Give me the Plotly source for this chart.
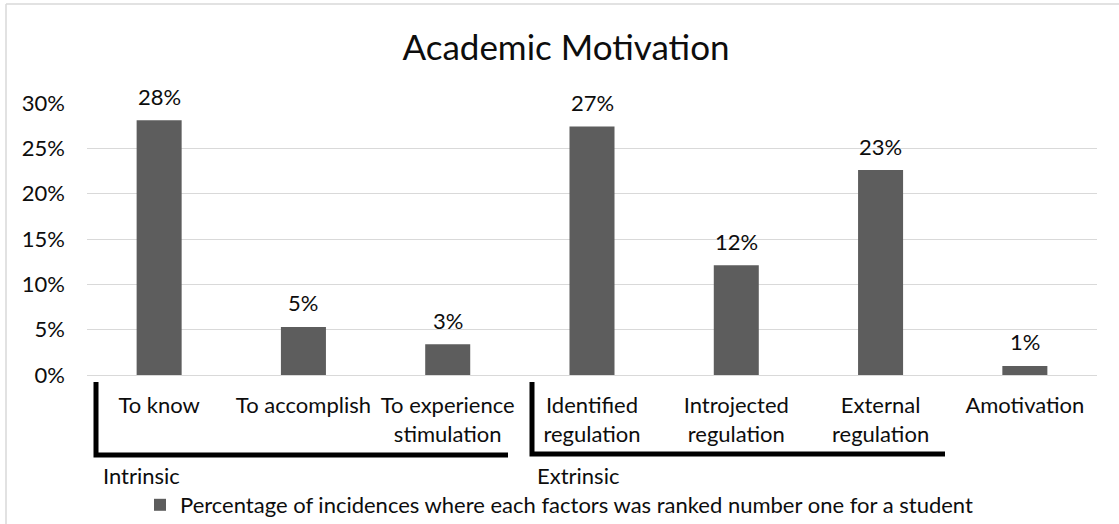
import plotly.graph_objects as go

# Share of students ranking each motivation factor first
categories = [
    "To know",
    "To accomplish",
    "To experience<br>stimulation",
    "Identified<br>regulation",
    "Introjected<br>regulation",
    "External<br>regulation",
    "Amotivation",
]
values = [0.281, 0.053, 0.034, 0.274, 0.121, 0.226, 0.010]
y_ticks = [0, 0.05, 0.10, 0.15, 0.20, 0.25, 0.30]
series_name = "Percentage of incidences where each factors was ranked number one for a student"
title_text = "Academic Motivation"
group_labels = ["Intrinsic", "Extrinsic"]

W, H = 1119, 524
M_L, M_R, M_T, M_B = 87, 22, 103, 149
PW, PH = W - M_L - M_R, H - M_T - M_B

FONT = "Lato"
FS = 22
TXT = "#0d0d0d"
BAR = "#5d5d5d"
GRID = "#d9d9d9"


def px_x(x):
    """Pixel column -> paper x."""
    return (x - M_L) / PW


def px_y(y):
    """Pixel row -> paper y."""
    return (H - M_B - y) / PH


fig = go.Figure()
fig.add_trace(
    go.Bar(
        x=categories,
        y=values,
        name=series_name,
        marker=dict(color=BAR, line=dict(width=0)),
        showlegend=True,
    )
)

# value labels above each bar
for c, v in zip(categories, values):
    fig.add_annotation(
        x=c, y=v, xref="x", yref="y",
        text=f"{v:.0%}", showarrow=False,
        yanchor="middle", yshift=24,
        font=dict(family=FONT, size=FS, color=TXT),
    )

# group brackets below the category labels
bracket = dict(type="path", xref="paper", yref="paper",
               line=dict(color="black", width=5), layer="above")
fig.add_shape(
    path=f"M {px_x(96)},{px_y(382)} L {px_x(96)},{px_y(455)} L {px_x(508)},{px_y(455)}",
    **bracket,
)
fig.add_shape(
    path=f"M {px_x(532)},{px_y(382)} L {px_x(532)},{px_y(454)} L {px_x(945)},{px_y(454)}",
    **bracket,
)
for lbl, x0 in zip(group_labels, [101, 535]):
    fig.add_annotation(
        x=px_x(x0), y=px_y(475), xref="paper", yref="paper",
        text=lbl, showarrow=False, xanchor="left", yanchor="middle",
        font=dict(family=FONT, size=FS, color=TXT),
    )

# chart frame (top and left edges)
frame = dict(type="line", xref="paper", yref="paper",
             line=dict(color=GRID, width=1.5), layer="below")
fig.add_shape(x0=px_x(6), x1=px_x(W), y0=px_y(4), y1=px_y(4), **frame)
fig.add_shape(x0=px_x(6), x1=px_x(6), y0=px_y(4), y1=px_y(H), **frame)

fig.update_layout(
    width=W, height=H,
    margin=dict(l=M_L, r=M_R, t=M_T, b=M_B, autoexpand=False),
    paper_bgcolor="white", plot_bgcolor="white",
    bargap=0.688,
    title=dict(
        text=title_text, x=566 / W, xanchor="center",
        y=1 - 48 / H, yanchor="middle",
        font=dict(family=FONT, size=35, color=TXT),
    ),
    font=dict(family=FONT, size=FS, color=TXT),
    xaxis=dict(
        type="category", showgrid=False, showline=False, ticks="",
        tickfont=dict(family=FONT, size=FS, color=TXT),
        tickangle=0, ticklabelstandoff=15,
    ),
    yaxis=dict(
        range=[0, 0.30], tickvals=y_ticks, tickformat=".0%",
        showgrid=True, gridcolor=GRID, gridwidth=1.3,
        zeroline=True, zerolinecolor=GRID, zerolinewidth=1.3,
        showline=False, ticks="",
        tickfont=dict(family=FONT, size=FS, color=TXT),
        ticklabelstandoff=21,
    ),
    legend=dict(
        orientation="h", x=px_x(140), xanchor="left",
        y=px_y(505), yanchor="middle",
        font=dict(family=FONT, size=FS, color=TXT),
        bgcolor="rgba(0,0,0,0)", itemwidth=30,
    ),
)

fig.write_html("out.html")
